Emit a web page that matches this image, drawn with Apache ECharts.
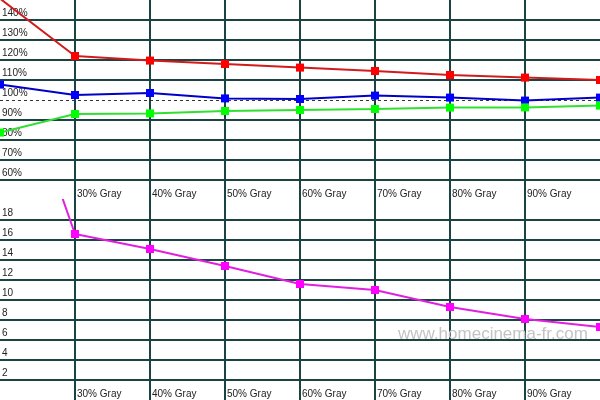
<!DOCTYPE html>
<html>
<head>
<meta charset="utf-8">
<script src="https://cdn.jsdelivr.net/npm/echarts@6/dist/echarts.min.js"></script>
<style>
html,body{margin:0;padding:0;background:#fff;}
#chart{width:600px;height:400px;}
</style>
</head>
<body>
<div id="chart"></div>
<script>
const categories = ['20% Gray','30% Gray','40% Gray','50% Gray','60% Gray','70% Gray','80% Gray','90% Gray','100% Gray'];
const redValues     = [150.7, 122.0, 119.7, 118.0, 116.2, 114.5, 112.5, 111.2, 110.0];
const blueValues    = [107.7, 102.5, 103.5, 100.8, 100.5, 102.2, 101.2, 99.7, 101.2];
const greenValues   = [83.7, 93.0, 93.3, 94.5, 95.0, 95.5, 96.2, 96.3, 97.2];
const magentaValues = [38.0, 16.6, 15.1, 13.4, 11.6, 11.0, 9.3, 8.1, 7.3];
const topTickLabels = ['60%','70%','80%','90%','100%','110%','120%','130%','140%'];
const bottomTickLabels = ['2','4','6','8','10','12','14','16','18'];
const watermark = 'www.homecinema-fr.com';

const GRID = '#1c4343';
const T = 'rgba(0,0,0,0)';
const FONT = '"Liberation Sans", Arial, sans-serif';
const FS = 10;
const TXT = '#222';

function xAxisFor(gridIndex) {
  return {
    type: 'category', gridIndex, data: categories, boundaryGap: false,
    axisLine: {show: false}, axisTick: {show: false},
    axisLabel: {
      inside: true, margin: 1, align: 'left', verticalAlign: 'bottom',
      padding: [0, 0, 0, 2], color: TXT, fontFamily: FONT, fontSize: FS,
      interval: 0,
      formatter: (v, i) => (i === 0 || i === categories.length - 1) ? '' : v
    },
    splitLine: {show: true, lineStyle: {width: 2, color: [T, GRID, GRID, GRID, GRID, GRID, GRID, GRID, T]}}
  };
}

const option = {
  backgroundColor: '#fff',
  animation: false,
  grid: [
    {left: 0, right: 0, top: 0, height: 200, containLabel: false, outerBoundsMode: 'none'},
    {left: 0, right: 0, top: 200, height: 200, containLabel: false, outerBoundsMode: 'none'}
  ],
  xAxis: [xAxisFor(0), xAxisFor(1)],
  yAxis: [
    {
      type: 'value', gridIndex: 0, min: 50, max: 150, interval: 10,
      axisLine: {show: false}, axisTick: {show: false},
      axisLabel: {
        inside: true, margin: 2, align: 'left', verticalAlign: 'bottom',
        padding: [0, 0, 2, 0], color: TXT, fontFamily: FONT, fontSize: FS,
        formatter: v => topTickLabels.includes(Math.round(v) + '%') ? Math.round(v) + '%' : ''
      },
      splitLine: {show: true, lineStyle: {width: 2, color: [T, GRID, GRID, GRID, GRID, T, GRID, GRID, GRID, GRID, T]}}
    },
    {
      type: 'value', gridIndex: 1, min: 0, max: 20, interval: 2,
      axisLine: {show: false}, axisTick: {show: false},
      axisLabel: {
        inside: true, margin: 2, align: 'left', verticalAlign: 'bottom',
        padding: [0, 0, 2, 0], color: TXT, fontFamily: FONT, fontSize: FS,
        formatter: v => bottomTickLabels.includes(String(Math.round(v))) ? String(Math.round(v)) : ''
      },
      splitLine: {show: true, lineStyle: {width: 2, color: [T, GRID, GRID, GRID, GRID, GRID, GRID, GRID, GRID, GRID, T]}}
    }
  ],
  graphic: [{
    type: 'text', left: 398, top: 326, z: 1,
    style: {text: watermark, fill: '#c4c4c4', font: '17px "Liberation Sans", Arial, sans-serif'}
  }],
  series: [
    {
      type: 'line', xAxisIndex: 0, yAxisIndex: 0, data: blueValues, z: 3,
      symbol: 'rect', symbolSize: 8, clip: true,
      lineStyle: {color: '#0000c8', width: 2}, itemStyle: {color: '#0000ff'},
      markLine: {
        silent: true, symbol: ['none', 'none'], label: {show: false}, z: 1,
        lineStyle: {type: [3, 3], color: '#333', width: 1},
        data: [{yAxis: 100}]
      }
    },
    {
      type: 'line', xAxisIndex: 0, yAxisIndex: 0, data: redValues, z: 3,
      symbol: 'rect', symbolSize: 8, clip: true,
      lineStyle: {color: '#d01c1c', width: 2}, itemStyle: {color: '#ff0000'}
    },
    {
      type: 'line', xAxisIndex: 0, yAxisIndex: 0, data: greenValues, z: 3,
      symbol: 'rect', symbolSize: 8, clip: true,
      lineStyle: {color: '#30e030', width: 2}, itemStyle: {color: '#00ff00'}
    },
    {
      type: 'line', xAxisIndex: 1, yAxisIndex: 1, data: magentaValues, z: 3,
      symbol: 'rect', symbolSize: 8, clip: true,
      lineStyle: {color: '#e020e0', width: 2}, itemStyle: {color: '#ff00ff'}
    }
  ]
};

const chart = echarts.init(document.getElementById('chart'), null, {renderer: 'canvas'});
chart.setOption(option);
</script>
</body>
</html>
